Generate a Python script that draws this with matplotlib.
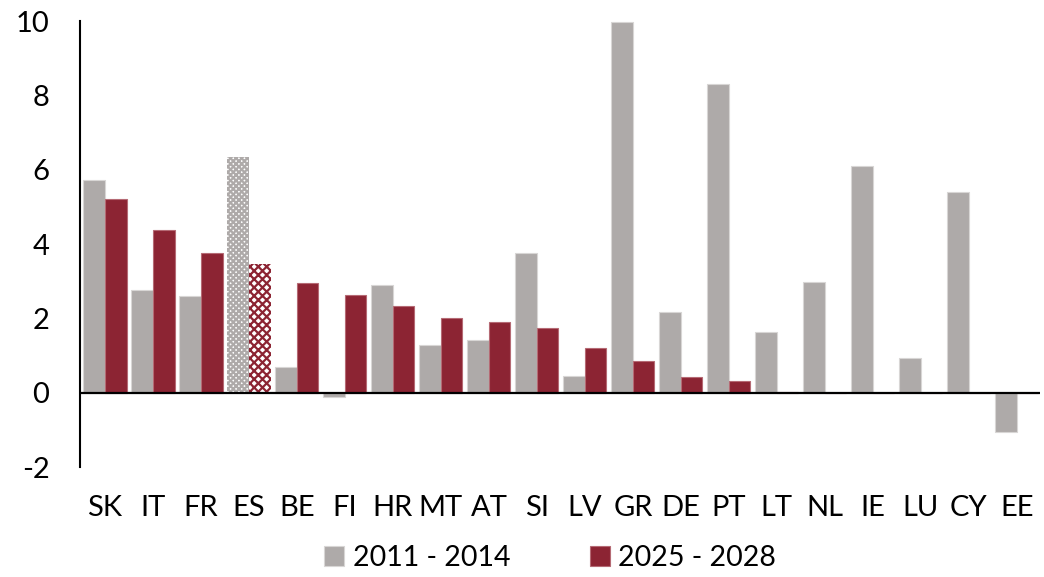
import numpy as np
import matplotlib
matplotlib.use("Agg")
from matplotlib import pyplot as plt

plt.rcParams['font.family'] = ['Lato', 'DejaVu Sans']
plt.rcParams['hatch.linewidth'] = 1.6
plt.rcParams['axes.unicode_minus'] = False

countries = ["SK", "IT", "FR", "ES", "BE", "FI", "HR", "MT", "AT", "SI",
             "LV", "GR", "DE", "PT", "LT", "NL", "IE", "LU", "CY", "EE"]
p2011 = [5.71, 2.75, 2.59, 6.33, 0.70, -0.12, 2.91, 1.27, 1.43, 3.77,
         0.46, 9.97, 2.18, 8.30, 1.62, 2.99, 6.09, 0.92, 5.39, -1.05]
p2025 = [5.20, 4.39, 3.75, 3.45, 2.94, 2.64, 2.32, 2.02, 1.91, 1.75,
         1.19, 0.86, 0.43, 0.32, 0.03, 0.0, 0.0, 0.0, 0.0, 0.0]
hatched = ["ES"]

grey = "#aeaaa9"
red = "#8c2433"

fig = plt.figure(figsize=(10.44, 5.77), dpi=100)
ax = fig.add_axes([0.0766, 0.1906, 0.9194, 0.773])

x = np.arange(len(countries))
w = 0.45
b1 = ax.bar(x - w / 2, p2011, w, color=grey, edgecolor="#d8d6d5", linewidth=0.8, label="2011 - 2014")
b2 = ax.bar(x + w / 2, p2025, w, color=red, edgecolor="#b56a74", linewidth=0.8, label="2025 - 2028")

for i, c in enumerate(countries):
    if c in hatched:
        b1[i].set_facecolor("white")
        b1[i].set_edgecolor(grey)
        b1[i].set_hatch("xxxxxx")
        b1[i].set_linewidth(0)
        b2[i].set_facecolor("white")
        b2[i].set_edgecolor(red)
        b2[i].set_hatch("xxxx")
        b2[i].set_linewidth(0)

ax.axhline(0, color="black", linewidth=1.6, zorder=3)
ax.set_ylim(-2, 10)
ax.set_xlim(-0.52, 19.48)
ax.set_yticks([-2, 0, 2, 4, 6, 8, 10])
ax.set_xticks(x)
ax.set_xticklabels(countries)
ax.tick_params(axis="both", length=0, labelsize=21)
ax.tick_params(axis="y", pad=22)
ax.tick_params(axis="x", pad=20)
for s in ["top", "right", "bottom"]:
    ax.spines[s].set_visible(False)
ax.spines["left"].set_linewidth(1.5)

ax.legend(loc="center", bbox_to_anchor=(0.49, -0.203), ncol=2, frameon=False,
          fontsize=20.5, handlelength=0.7, handleheight=0.7, handletextpad=0.3,
          columnspacing=2.8)

fig.savefig("out.png", dpi=100)
